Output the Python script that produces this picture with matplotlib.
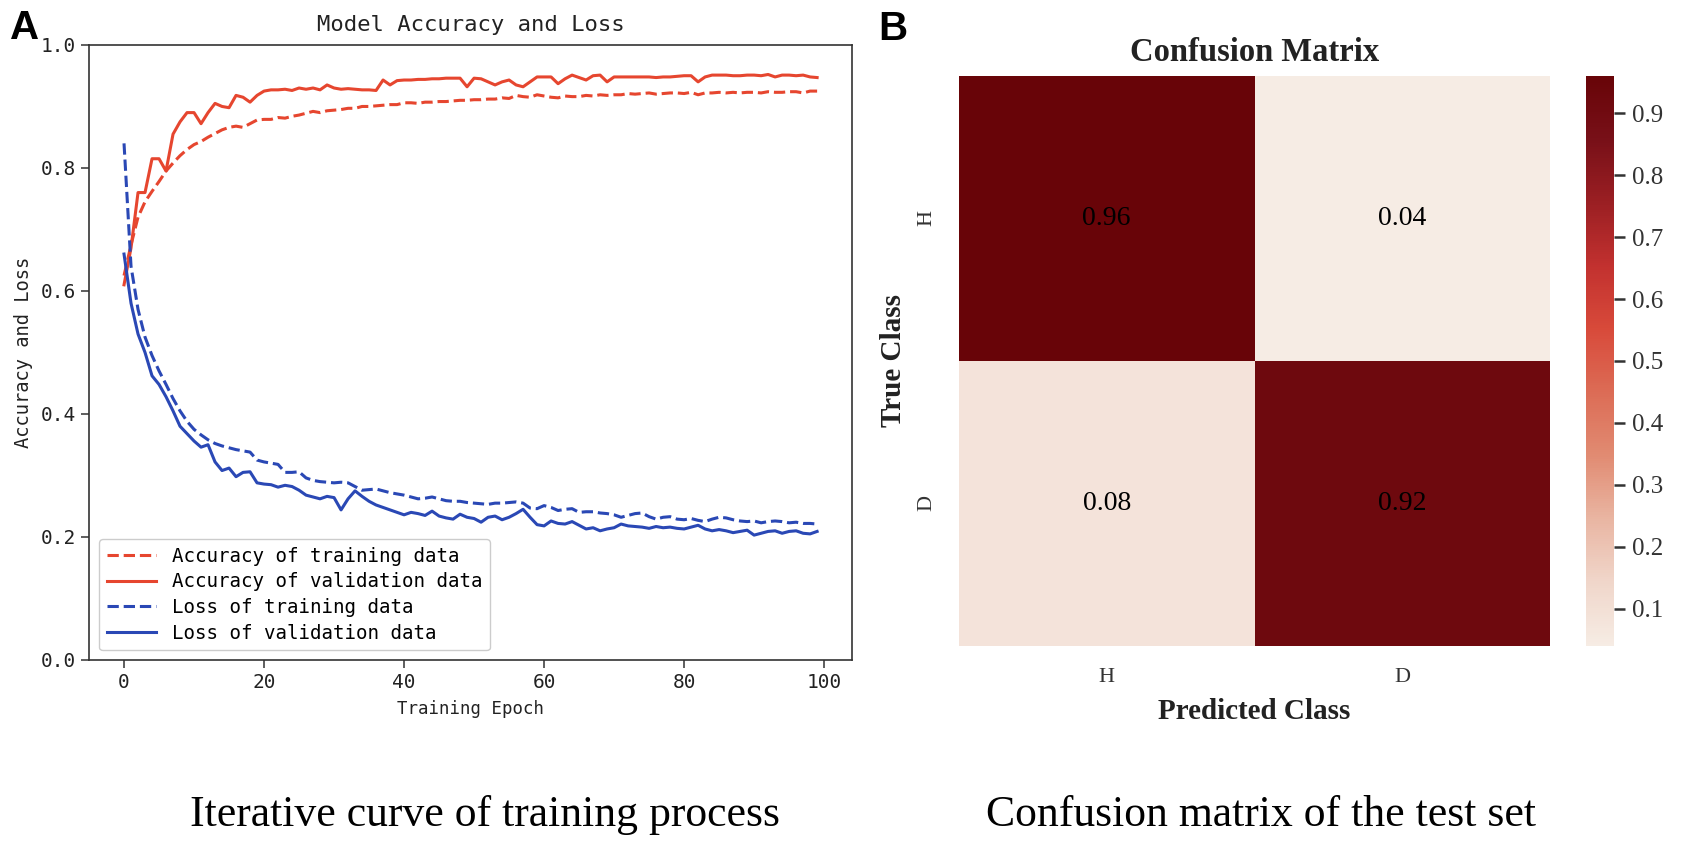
import numpy as np
import matplotlib
matplotlib.use("Agg")
import matplotlib.pyplot as plt
from matplotlib.colors import LinearSegmentedColormap
import seaborn as sns

# ---- panel A: training curves (one value per epoch) ----
epochs = list(range(100))
train_acc = [0.625, 0.675, 0.72, 0.745, 0.762, 0.778, 0.795, 0.808, 0.82, 0.83,
             0.838, 0.843, 0.85, 0.856, 0.862, 0.866, 0.868, 0.866, 0.872, 0.878,
             0.879, 0.879, 0.882, 0.881, 0.884, 0.886, 0.889, 0.892, 0.89, 0.893,
             0.894, 0.895, 0.897, 0.897, 0.9, 0.9, 0.901, 0.902, 0.903, 0.903,
             0.906, 0.906, 0.905, 0.907, 0.907, 0.908, 0.908, 0.909, 0.91, 0.91,
             0.911, 0.911, 0.912, 0.912, 0.914, 0.913, 0.918, 0.916, 0.915, 0.919,
             0.917, 0.915, 0.914, 0.917, 0.916, 0.916, 0.918, 0.917, 0.919, 0.918,
             0.919, 0.919, 0.921, 0.92, 0.921, 0.922, 0.92, 0.921, 0.922, 0.922,
             0.921, 0.923, 0.919, 0.922, 0.922, 0.923, 0.922, 0.923, 0.922, 0.923,
             0.923, 0.922, 0.924, 0.923, 0.923, 0.924, 0.924, 0.922, 0.925, 0.925]
val_acc = [0.61, 0.67, 0.76, 0.76, 0.815, 0.815, 0.795, 0.855, 0.875, 0.89,
           0.89, 0.872, 0.89, 0.905, 0.9, 0.898, 0.918, 0.915, 0.907, 0.918,
           0.925, 0.927, 0.927, 0.928, 0.926, 0.93, 0.928, 0.93, 0.927, 0.935,
           0.93, 0.928, 0.929, 0.928, 0.927, 0.927, 0.926, 0.943, 0.935, 0.942,
           0.943, 0.943, 0.944, 0.944, 0.945, 0.945, 0.946, 0.946, 0.946, 0.932,
           0.946, 0.945, 0.94, 0.935, 0.94, 0.943, 0.935, 0.932, 0.94, 0.948,
           0.948, 0.948, 0.937, 0.945, 0.951, 0.947, 0.943, 0.95, 0.951, 0.94,
           0.948, 0.948, 0.948, 0.948, 0.948, 0.948, 0.947, 0.948, 0.948, 0.949,
           0.95, 0.95, 0.94, 0.948, 0.951, 0.951, 0.951, 0.95, 0.95, 0.951,
           0.951, 0.95, 0.952, 0.948, 0.951, 0.951, 0.95, 0.951, 0.948, 0.947]
train_loss = [0.84, 0.64, 0.57, 0.525, 0.495, 0.47, 0.448, 0.425, 0.405, 0.388,
              0.375, 0.366, 0.358, 0.352, 0.348, 0.345, 0.342, 0.34, 0.338, 0.325,
              0.322, 0.32, 0.318, 0.305, 0.305, 0.306, 0.296, 0.292, 0.29, 0.289,
              0.288, 0.289, 0.288, 0.282, 0.276, 0.277, 0.278, 0.275, 0.272, 0.27,
              0.268, 0.265, 0.262, 0.263, 0.265, 0.262, 0.259, 0.258, 0.258, 0.256,
              0.255, 0.254, 0.253, 0.255, 0.255, 0.256, 0.257, 0.255, 0.247, 0.246,
              0.251, 0.248, 0.243, 0.245, 0.246, 0.24, 0.241, 0.241, 0.239, 0.238,
              0.236, 0.232, 0.235, 0.238, 0.239, 0.233, 0.229, 0.232, 0.233, 0.229,
              0.228, 0.23, 0.227, 0.225, 0.229, 0.232, 0.231, 0.228, 0.226, 0.225,
              0.226, 0.223, 0.225, 0.226, 0.225, 0.223, 0.224, 0.222, 0.222, 0.221]
val_loss = [0.66, 0.58, 0.53, 0.5, 0.462, 0.448, 0.428, 0.405, 0.38, 0.368,
            0.356, 0.346, 0.35, 0.322, 0.308, 0.312, 0.298, 0.305, 0.306, 0.288,
            0.286, 0.285, 0.281, 0.284, 0.282, 0.276, 0.268, 0.265, 0.262, 0.266,
            0.264, 0.244, 0.262, 0.275, 0.266, 0.258, 0.252, 0.248, 0.244, 0.24,
            0.236, 0.24, 0.238, 0.235, 0.242, 0.234, 0.231, 0.229, 0.237, 0.232,
            0.23, 0.224, 0.232, 0.234, 0.228, 0.232, 0.238, 0.245, 0.232, 0.22,
            0.218, 0.226, 0.222, 0.221, 0.225, 0.219, 0.213, 0.215, 0.21, 0.213,
            0.215, 0.221, 0.218, 0.217, 0.216, 0.214, 0.217, 0.215, 0.216, 0.214,
            0.213, 0.216, 0.219, 0.213, 0.21, 0.212, 0.21, 0.207, 0.209, 0.211,
            0.203, 0.206, 0.209, 0.21, 0.206, 0.209, 0.21, 0.206, 0.205, 0.209]

# ---- panel B: confusion matrix ----
classes = ["H", "D"]
conf = [[0.96, 0.04],
        [0.08, 0.92]]
cbar_ticks = [0.1, 0.2, 0.3, 0.4, 0.5, 0.6, 0.7, 0.8, 0.9]

RED, BLUE = "#e6462f", "#2a48b5"
MONO = "DejaVu Sans Mono"
SERIF = "Liberation Serif"
# beige -> salmon -> red -> maroon, as in the reference colour bar
cm_red = LinearSegmentedColormap.from_list(
    "beige_red", ["#f6ece4", "#f0d6ca", "#e9b5a2", "#e18b72", "#dc6c56",
                  "#d84a3a", "#c2312f", "#9b1f23", "#781018", "#680408"])

fig = plt.figure(figsize=(16.83, 8.42), dpi=100)

# ---------------- A ----------------
ax = fig.add_axes([0.0531, 0.2162, 0.4530, 0.7304])
ax.plot(epochs, train_acc, "--", color=RED, lw=2.2, label="Accuracy of training data")
ax.plot(epochs, val_acc, "-", color=RED, lw=2.2, label="Accuracy of validation data")
ax.plot(epochs, train_loss, "--", color=BLUE, lw=2.2, label="Loss of training data")
ax.plot(epochs, val_loss, "-", color=BLUE, lw=2.2, label="Loss of validation data")
ax.set_ylim(0, 1.0)
ax.set_xticks([0, 20, 40, 60, 80, 100])
ax.set_yticks([0.0, 0.2, 0.4, 0.6, 0.8, 1.0])
ax.set_yticklabels(["0.0", "0.2", "0.4", "0.6", "0.8", "1.0"])
for lab in ax.get_xticklabels() + ax.get_yticklabels():
    lab.set_family(MONO); lab.set_fontsize(14); lab.set_color("#222222")
ax.tick_params(direction="out", length=6, width=1.1, color="#333333")
for s in ax.spines.values():
    s.set_linewidth(1.2); s.set_color("#333333")
ax.set_title("Model Accuracy and Loss", family=MONO, fontsize=16, pad=10, color="#222222")
ax.set_xlabel("Training Epoch", family=MONO, fontsize=12.5, labelpad=6, color="#222222")
ax.set_ylabel("Accuracy and Loss", family=MONO, fontsize=13.5, labelpad=6, color="#222222")
ax.legend(loc="lower left", prop={"family": MONO, "size": 13.8}, handlelength=2.6,
          labelspacing=0.35, framealpha=1, edgecolor="#cccccc", fancybox=True)

# ---------------- B ----------------
hax = fig.add_axes([0.5698, 0.2328, 0.3512, 0.6770])
cax = fig.add_axes([0.9424, 0.2328, 0.0166, 0.6770])
sns.heatmap(np.array(conf), ax=hax, cbar_ax=cax, cmap=cm_red, annot=True, fmt=".2f",
            annot_kws={"color": "black", "family": SERIF, "fontsize": 20},
            xticklabels=classes, yticklabels=classes,
            cbar_kws={"ticks": cbar_ticks})
hax.tick_params(length=0, pad=16)
hax.set_xticklabels(classes, family=SERIF, fontsize=16, color="#333333")
hax.set_yticklabels(classes, family=SERIF, fontsize=16, color="#333333", rotation=90, va="center")
hax.set_title("Confusion Matrix", family=SERIF, fontsize=23.5, fontweight="bold", pad=11,
              color="#222222")
hax.set_xlabel("Predicted Class", family=SERIF, fontsize=21, fontweight="bold", labelpad=8,
               color="#222222")
hax.set_ylabel("True Class", family=SERIF, fontsize=21, fontweight="bold", labelpad=8,
               color="#222222")
cax.tick_params(length=8, width=1.8, color="#333333", pad=5)
cax.set_yticklabels([f"{t:.1f}" for t in cbar_ticks])
for lab in cax.get_yticklabels():
    lab.set_family(SERIF); lab.set_fontsize(18); lab.set_color("#333333")

# ---------------- panel letters and captions ----------------
fig.text(0.006, 0.967, "A", family="Liberation Sans", fontweight="bold", fontsize=29,
         ha="left", va="center")
fig.text(0.5217, 0.9656, "B", family="Liberation Sans", fontweight="bold", fontsize=29,
         ha="left", va="center")
fig.text(0.288, 0.032, "Iterative curve of training process", family=SERIF, fontsize=31.5,
         ha="center", va="center")
fig.text(0.749, 0.032, "Confusion matrix of the test set", family=SERIF, fontsize=31.5,
         ha="center", va="center")

fig.savefig("out.png", dpi=100)
